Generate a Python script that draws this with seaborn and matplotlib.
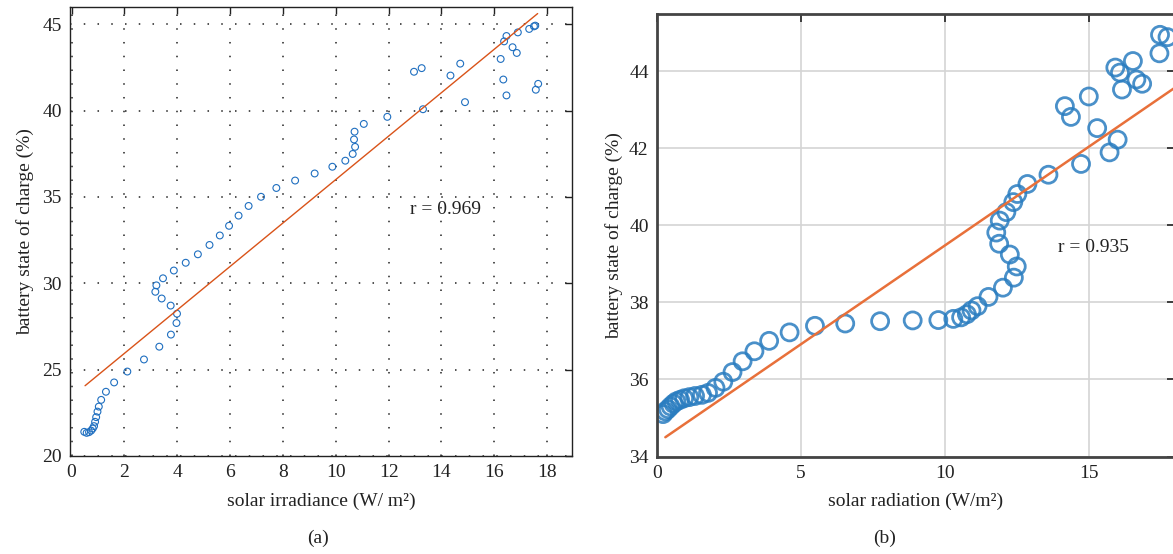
import matplotlib
matplotlib.use("Agg")
import matplotlib.pyplot as plt
import seaborn as sns
import pandas as pd

# ---------------- data (a) ----------------
irr_a = [0.48, 0.57, 0.66, 0.74, 0.80, 0.85, 0.89, 0.93, 0.98, 1.03, 1.12, 1.30,
         1.61, 2.11, 2.74, 3.32, 3.76, 3.97, 3.99, 3.75, 3.41, 3.17, 3.21, 3.46,
         3.87, 4.32, 4.78, 5.22, 5.61, 5.96, 6.32, 6.70, 7.17, 7.75, 8.46, 9.20,
         9.87, 10.36, 10.64, 10.73, 10.69, 10.71, 11.06, 11.95, 13.30, 12.96,
         13.25, 14.34, 14.71, 14.89, 16.24, 16.34, 16.46, 16.37, 16.46, 16.69,
         16.85, 16.89, 17.32, 17.50, 17.55, 17.57, 17.66]
soc_a = [21.40, 21.34, 21.38, 21.47, 21.59, 21.73, 21.98, 22.25, 22.57, 22.86,
         23.25, 23.72, 24.26, 24.89, 25.59, 26.33, 27.03, 27.70, 28.24, 28.71,
         29.12, 29.51, 29.88, 30.29, 30.74, 31.19, 31.68, 32.22, 32.77, 33.33,
         33.92, 34.48, 35.01, 35.52, 35.95, 36.36, 36.75, 37.10, 37.49, 37.90,
         38.33, 38.78, 39.23, 39.64, 40.08, 42.25, 42.46, 42.03, 42.72, 40.49,
         42.99, 41.80, 40.88, 44.01, 44.32, 43.67, 43.34, 44.53, 44.73, 44.88,
         44.92, 41.21, 41.55]
fit_a_x = [0.51, 17.64]
fit_a_y = [24.07, 45.62]
r_a = "r = 0.969"

# ---------------- data (b) ----------------
rad_b = [0.21, 0.29, 0.38, 0.47, 0.57, 0.67, 0.80, 0.94, 1.12, 1.32, 1.56, 1.77,
         2.03, 2.30, 2.62, 2.97, 3.38, 3.89, 4.60, 5.48, 6.53, 7.74, 8.87, 9.76,
         10.28, 10.55, 10.75, 10.91, 11.12, 11.50, 12.00, 12.38, 12.48, 12.24,
         11.87, 11.77, 11.89, 12.12, 12.36, 12.50, 12.85, 13.58, 14.71, 15.70,
         15.98, 15.27, 14.15, 14.36, 14.98, 15.90, 16.06, 16.13, 16.51, 16.63,
         16.83, 17.43, 17.45, 17.71]
soc_b = [35.10, 35.17, 35.23, 35.30, 35.37, 35.43, 35.47, 35.51, 35.54, 35.57,
         35.60, 35.65, 35.78, 35.94, 36.19, 36.47, 36.73, 37.00, 37.22, 37.39,
         37.45, 37.51, 37.53, 37.54, 37.57, 37.61, 37.69, 37.79, 37.90, 38.14,
         38.38, 38.64, 38.93, 39.24, 39.52, 39.81, 40.12, 40.34, 40.60, 40.81,
         41.07, 41.31, 41.59, 41.89, 42.22, 42.52, 43.09, 42.81, 43.34, 44.09,
         43.96, 43.52, 44.26, 43.78, 43.67, 44.46, 44.94, 44.88]
fit_b_x = [0.29, 17.95]
fit_b_y = [34.50, 43.56]
r_b = "r = 0.935"

xticks_a = [0, 2, 4, 6, 8, 10, 12, 14, 16, 18]
yticks_a = [20, 25, 30, 35, 40, 45]
xticks_b = [0, 5, 10, 15]
yticks_b = [34, 36, 38, 40, 42, 44]

df_a = pd.DataFrame({"x": irr_a, "y": soc_a})
df_b = pd.DataFrame({"x": rad_b, "y": soc_b})
fa = pd.DataFrame({"x": fit_a_x, "y": fit_a_y})
fb = pd.DataFrame({"x": fit_b_x, "y": fit_b_y})

sns.set_theme(style="white")
plt.rcParams["font.family"] = ["Liberation Serif", "DejaVu Serif"]
plt.rcParams["font.size"] = 14

fig = plt.figure(figsize=(11.73, 5.54), dpi=100)
W, H = 1173, 554

# ---- panel (a)
ax1 = fig.add_axes([70 / W, 1 - 456 / H, (572 - 70) / W, (456 - 7) / H])
sns.lineplot(data=fa, x="x", y="y", ax=ax1, color="#D95319", lw=1.0)
sns.scatterplot(data=df_a, x="x", y="y", ax=ax1, marker="o", s=24,
                facecolor="none", edgecolor="#1f6fc0", linewidth=0.8)
ax1.set_xlim(-0.06, 18.94)
ax1.set_ylim(20, 46)
ax1.set_xticks(xticks_a)
ax1.set_yticks(yticks_a)
ax1.grid(True, color="#222222", linestyle=(0, (1, 8)), linewidth=1.1)
for s in ax1.spines.values():
    s.set_color("#222222")
    s.set_linewidth(1.0)
ax1.tick_params(direction="in", length=5, width=1, top=True, right=True,
                labelsize=14, pad=6, colors="#222222")
ax1.set_xlabel("solar irradiance (W/ m²)", fontsize=14, labelpad=8, color="#222222")
ax1.set_ylabel("battery state of charge (%)", fontsize=14, labelpad=6, color="#222222")
ax1.text(12.8, 34.3, r_a, fontsize=14, va="center", ha="left", color="#222222")

# ---- panel (b)
ax2 = fig.add_axes([657 / W, 1 - 456.5 / H, (1175 - 657) / W, (456.5 - 14) / H])
sns.lineplot(data=fb, x="x", y="y", ax=ax2, color="#E8703A", lw=1.8)
sns.scatterplot(data=df_b, x="x", y="y", ax=ax2, marker="o", s=150,
                facecolor="none", edgecolor="#2a7dc0", linewidth=2.0, alpha=0.85)
ax2.set_xlim(0, 17.97)
ax2.set_ylim(34, 45.48)
ax2.set_xticks(xticks_b)
ax2.set_yticks(yticks_b)
ax2.grid(True, color="#d4d4d4", linestyle="-", linewidth=1.2)
ax2.set_axisbelow(True)
for s in ax2.spines.values():
    s.set_color("#444444")
    s.set_linewidth(2.0)
ax2.tick_params(direction="in", length=6, width=1.2, top=True, right=True,
                labelsize=14, pad=6, colors="#222222")
ax2.set_xlabel("solar radiation (W/m²)", fontsize=14, labelpad=8, color="#222222")
ax2.set_ylabel("battery state of charge (%)", fontsize=14, labelpad=4, color="#222222")
ax2.text(13.9, 39.42, r_b, fontsize=14, va="center", ha="left", color="#222222")

fig.text(318 / W, 1 - 538 / H, "(a)", fontsize=14, ha="center", va="center", color="#222222")
fig.text(885 / W, 1 - 538 / H, "(b)", fontsize=14, ha="center", va="center", color="#222222")

fig.savefig("out.png", dpi=100)
